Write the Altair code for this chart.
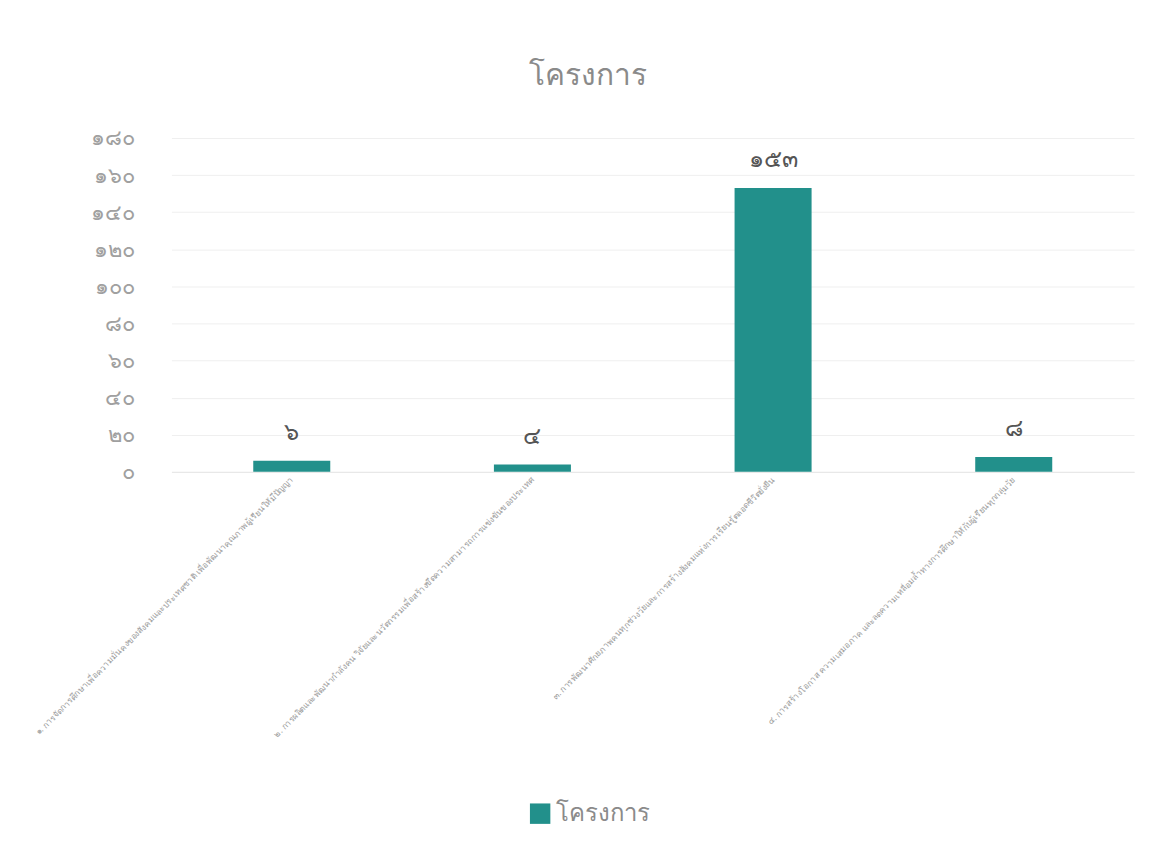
import altair as alt
import pandas as pd

categories = [
    "๑. การจัดการศึกษาเพื่อความมั่นคงของสังคมและประเทศชาติ เพื่อพัฒนาคุณภาพผู้เรียนให้มีปัญญา",
    "๒. การผลิตและพัฒนากำลังคน วิจัยและนวัตกรรมเพื่อสร้างขีดความสามารถการแข่งขันของประเทศ",
    "๓. การพัฒนาศักยภาพคนทุกช่วงวัยและการสร้างสังคมแห่งการเรียนรู้ตลอดชีวิตยั่งยืน",
    "๔. การสร้างโอกาส ความเสมอภาค และลดความเหลื่อมล้ำทางการศึกษาให้กับผู้เรียนทุกกลุ่มวัย",
]
values = [6, 4, 153, 8]
value_labels = ["๖", "๔", "๑๕๓", "๘"]
tick_values = [0, 20, 40, 60, 80, 100, 120, 140, 160, 180]
tick_labels = ["๐", "๒๐", "๔๐", "๖๐", "๘๐", "๑๐๐", "๑๒๐", "๑๔๐", "๑๖๐", "๑๘๐"]
series_name = "โครงการ"

df = pd.DataFrame({"cat": categories, "value": values, "label": value_labels,
                   "series": [series_name] * len(values)})

label_expr = "[" + ",".join("'" + t + "'" for t in tick_labels) + "][round(datum.value / 20)]"

teal = "#22908b"
grey = "#8a8a8a"

base = alt.Chart(df).encode(
    x=alt.X("cat:N", sort=categories, title=None,
            scale=alt.Scale(paddingInner=0.68, paddingOuter=0.34),
            axis=alt.Axis(labelAngle=315, labelAlign="right", labelBaseline="middle",
                          labelFontSize=8.5, labelColor="#9a9a9a", labelLimit=800,
                          ticks=False, domainColor="#e6e6e6", labelPadding=6)),
    y=alt.Y("value:Q", title=None,
            scale=alt.Scale(domain=[0, 180]),
            axis=alt.Axis(values=tick_values, labelExpr=label_expr, labelFontSize=22,
                          labelColor="#a0a0a0", labelFontWeight="normal", ticks=False,
                          domain=False, labelPadding=37, gridColor="#efefef")),
)

bars = base.mark_bar(color=teal).encode(
    color=alt.Color("series:N", scale=alt.Scale(range=[teal]),
                    legend=alt.Legend(title=None, orient="none", legendX=358, legendY=666,
                                      symbolType="square", symbolSize=420, labelFontSize=24,
                                      labelColor=grey, symbolStrokeWidth=0))
)

texts = base.mark_text(baseline="bottom", dy=-16, fontSize=24, color="#555555").encode(
    text="label:N"
)

chart = (bars + texts).properties(
    width=966, height=335,
    autosize=alt.AutoSizeParams(type="none"),
    title=alt.TitleParams(series_name, fontSize=30, color=grey, fontWeight="normal",
                          offset=36, frame="group", dx=-65),
    padding={"left": 164, "top": 129, "right": 20, "bottom": 380},
).configure(font="Noto Sans").configure_view(stroke=None)

chart.save("out.html", embed_options={"renderer": "svg", "actions": False})
